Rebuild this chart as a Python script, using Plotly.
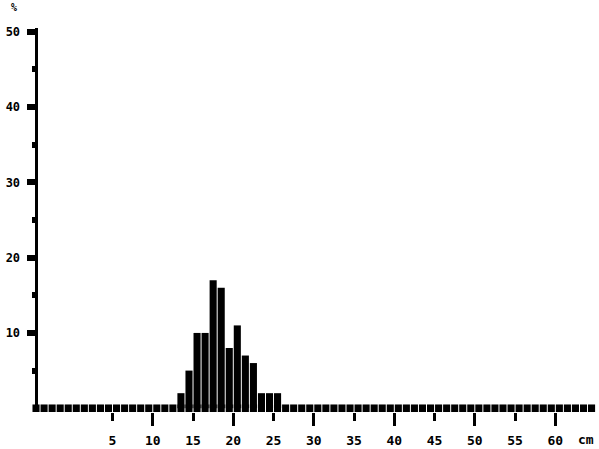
import plotly.graph_objects as go

# Data: percentage of individuals per 1-cm length class (bins from -5 to 65 cm)
bin_left = list(range(-5, 65))
class_start = [13, 14, 15, 16, 17, 18, 19, 20, 21, 22, 23, 24, 25]
class_pct = [2, 5, 10, 10, 17, 16, 8, 11, 7, 6, 2, 2, 2]

x_tick_vals = [5, 10, 15, 20, 25, 30, 35, 40, 45, 50, 55, 60]
x_tick_text = [str(v) for v in x_tick_vals]
x_major_vals = [10, 20, 30, 40, 50, 60]
y_tick_vals = [10, 20, 30, 40, 50]
y_tick_text = [str(v) for v in y_tick_vals]

W, H = 599, 449
ML, MR, MT, MB = 32, 1, 27.6, 36.8
pw = W - ML - MR
ph = H - MT - MB

fig = go.Figure()

# baseline "boxes" for every length class
fig.add_trace(go.Bar(
    x=[b + 0.5 for b in bin_left], y=[1.0] * len(bin_left), base=-0.5,
    width=0.88, marker=dict(color="black", line=dict(width=0)),
    hoverinfo="skip", showlegend=False, xaxis="x2"))

fig.add_trace(go.Bar(
    x=[b + 0.5 for b in class_start], y=class_pct, base=0,
    width=0.88, marker=dict(color="black", line=dict(width=0)),
    showlegend=False))

font = dict(family="DejaVu Sans Mono", size=13, color="black", weight="bold")
yfont = dict(family="DejaVu Sans Mono", size=12, color="black", weight="bold")

fig.update_layout(
    width=W, height=H,
    margin=dict(l=ML, r=MR, t=MT, b=MB, pad=0, autoexpand=False),
    paper_bgcolor="white", plot_bgcolor="white",
    barmode="overlay",
    font=font,
    xaxis=dict(range=[-5, 65.3], showgrid=False, zeroline=False, showline=False,
               automargin=False,
               tickmode="array", tickvals=x_tick_vals, ticktext=x_tick_text,
               ticks="outside", ticklen=8, tickwidth=3, tickcolor="black",
               ticklabelstandoff=8, tickfont=font),
    xaxis2=dict(range=[-5, 65.3], overlaying="x", anchor="y", side="bottom",
                automargin=False,
                showgrid=False, zeroline=False, showline=False,
                tickmode="array", tickvals=x_major_vals,
                ticks="outside", ticklen=13, tickwidth=3, tickcolor="black",
                showticklabels=False),
    yaxis=dict(range=[-0.5, 50.5], showgrid=False, zeroline=False,
               automargin=False, anchor="free", position=3.5 / pw,
               showline=True, linewidth=3, linecolor="black",
               tickmode="array", tickvals=y_tick_vals, ticktext=y_tick_text,
               ticks="outside", ticklen=8, tickwidth=6, tickcolor="black",
               ticklabelstandoff=4, tickfont=yfont,
               minor=dict(tickmode="array", tickvals=[5, 15, 25, 35, 45],
                          ticks="outside", ticklen=3, tickwidth=6, tickcolor="black")),
    annotations=[
        dict(text="%", xref="paper", yref="paper",
             x=(14 - ML) / pw, y=1 + (MT - 7) / ph,
             showarrow=False, xanchor="center", yanchor="middle",
             font=dict(family="DejaVu Sans Mono", size=10, color="black", weight="bold")),
        dict(text="cm", xref="paper", yref="paper",
             x=(586 - ML) / pw, y=-(440 - (MT + ph)) / ph,
             showarrow=False, xanchor="center", yanchor="middle", font=font),
    ],
)

fig.write_html(
    "out.html",
    config={"displayModeBar": False},
    post_script="document.body.style.margin='0';document.body.style.overflow='hidden';",
)
